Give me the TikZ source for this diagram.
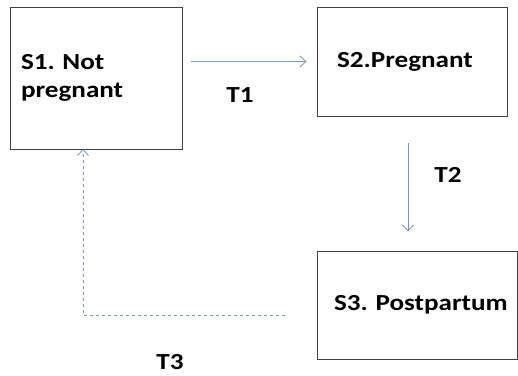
\documentclass[tikz,border=0pt]{standalone}
\usepackage{fontspec}
\setmainfont{Carlito}[BoldFeatures={FakeStretch=1.18}]
\frenchspacing
\usetikzlibrary{arrows.meta, positioning}
\definecolor{linkblue}{RGB}{120,150,195}
\tikzset{
  state/.style={draw=black!75, line width=0.9pt, rectangle, align=left,
    font=\fontsize{23}{28}\selectfont\bfseries, anchor=center},
  trans/.style={draw=linkblue, line width=0.8pt, -{Straight Barb[length=6pt,width=11pt]}},
  tlabel/.style={font=\fontsize{23}{24}\selectfont\bfseries}
}

\begin{document}
\begin{tikzpicture}[x=1pt, y=1pt]
\useasboundingbox (0,0) rectangle (518,375);
\node[state, minimum width=172, minimum height=142, text width=150] (s1) at (96,297) {S1. Not\\pregnant};
\node[state, minimum width=190, minimum height=109, text width=150] (s2) at (412,313.5) {S2.Pregnant};
\node[state, minimum width=200, minimum height=108, text width=166] (s3) at (417,70) {\mbox{S3. Postpartum}};
\coordinate (t3start) at (285,60);
\coordinate (t3end) at (83,226);
\node[tlabel] (t1lbl) at (240,280) {T1};
\node[tlabel] (t2lbl) at (448,200) {T2};
\node[tlabel] (t3lbl) at (170,13) {T3};
\draw[trans, shorten <=9pt, shorten >=10pt] (s1.east |- s2.west) -- (s2.west);
\draw[trans, shorten <=27pt, shorten >=19pt] ([xshift=-4pt]s2.south) -- ([xshift=-4pt]s2.south |- s3.north);
\draw[trans, dashed] (t3start) -| (t3end);
\end{tikzpicture}
\end{document}
